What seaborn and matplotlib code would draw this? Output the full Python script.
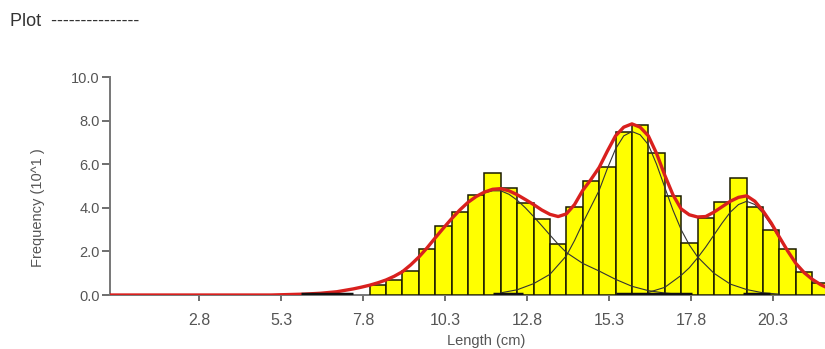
import numpy as np
import pandas as pd
import matplotlib
matplotlib.use('Agg')
import matplotlib.pyplot as plt
import seaborn as sns

# histogram bins (left edge, cm) and frequency (10^1)
bin_left = [8.0, 8.5, 9.0, 9.5, 10.0, 10.5, 11.0, 11.5, 12.0, 12.5, 13.0, 13.5,
            14.0, 14.5, 15.0, 15.5, 16.0, 16.5, 17.0, 17.5, 18.0, 18.5, 19.0,
            19.5, 20.0, 20.5, 21.0, 21.5]
freq = [0.48, 0.69, 1.1, 2.12, 3.15, 3.81, 4.61, 5.62, 4.9, 4.2, 3.48, 2.33,
        4.03, 5.23, 5.88, 7.5, 7.8, 6.52, 4.52, 2.37, 3.55, 4.27, 5.38,
        4.05, 2.97, 2.13, 1.07, 0.56]
bin_width = 0.5

# fitted total curve (red)
total_x = [0.0, 1.0, 2.0, 3.0, 4.0, 5.0, 5.5, 6.0, 6.5, 7.0, 7.5, 7.75,
           8.0, 8.25, 8.5, 8.75, 9.0, 9.25, 9.5, 9.75, 10.0, 10.25, 10.5, 10.75,
           11.0, 11.25, 11.5, 11.75, 12.0, 12.25, 12.5, 12.75, 13.0, 13.25, 13.5, 13.75,
           14.0, 14.25, 14.5, 14.75, 15.0, 15.25, 15.5, 15.75, 16.0, 16.25, 16.5, 16.75,
           17.0, 17.25, 17.5, 17.75, 18.0, 18.25, 18.5, 18.75, 19.0, 19.25, 19.5, 19.75,
           20.0, 20.25, 20.5, 20.75, 21.0, 21.25, 21.5, 21.75, 22.0]
total_y = [0, 0, 0, 0, 0, 0, 0.02, 0.04, 0.08, 0.15, 0.28, 0.36,
           0.45, 0.56, 0.69, 0.86, 1.07, 1.38, 1.74, 2.16, 2.62, 3.07, 3.5, 3.9,
           4.25, 4.52, 4.72, 4.85, 4.88, 4.78, 4.6, 4.38, 4.15, 3.9, 3.7, 3.6,
           3.72, 4.15, 4.8, 5.3, 5.85, 6.6, 7.3, 7.7, 7.85, 7.7, 7.3, 6.5,
           5.5, 4.6, 3.95, 3.68, 3.58, 3.6, 3.8, 4.05, 4.3, 4.48, 4.55, 4.3,
           3.85, 3.3, 2.65, 2.02, 1.45, 1.03, 0.72, 0.48, 0.3]

# component curves (thin black)
comp1_x = [5.5, 6.0, 6.5, 7.0, 7.5, 8.0, 8.5, 9.0, 9.25, 9.5, 9.75, 10.0, 10.25,
           10.5, 10.75, 11.0, 11.25, 11.5, 11.75, 12.0, 12.25, 12.5, 12.75, 13.0,
           13.25, 13.5, 13.75, 14.0, 14.5, 15.0, 15.5, 16.0, 16.5, 17.0, 17.5]
comp1_y = [0.02, 0.04, 0.08, 0.15, 0.28, 0.45, 0.69, 1.07, 1.38, 1.74, 2.16, 2.62, 3.07,
           3.5, 3.9, 4.25, 4.5, 4.68, 4.78, 4.78, 4.62, 4.35, 4.0, 3.6,
           3.18, 2.75, 2.33, 1.95, 1.45, 1.1, 0.72, 0.4, 0.2, 0.09, 0.03]
comp2_x = [12.0, 12.5, 13.0, 13.5, 14.0, 14.25, 14.5, 14.75, 15.0, 15.25, 15.5,
           15.75, 16.0, 16.25, 16.5, 16.75, 17.0, 17.25, 17.5, 17.75, 18.0, 18.5,
           19.0, 19.5, 20.0, 20.5]
comp2_y = [0.1, 0.24, 0.52, 0.95, 1.8, 2.5, 3.3, 4.05, 4.8, 5.8, 6.7,
           7.3, 7.5, 7.35, 6.9, 6.0, 4.95, 3.9, 3.0, 2.3, 1.75, 1.0,
           0.5, 0.25, 0.1, 0.04]
comp3_x = [16.5, 17.0, 17.5, 17.75, 18.0, 18.25, 18.5, 18.75, 19.0, 19.25, 19.5,
           19.75, 20.0, 20.25, 20.5, 20.75, 21.0, 21.5, 22.0]
comp3_y = [0.12, 0.35, 0.9, 1.25, 1.7, 2.2, 2.75, 3.3, 3.8, 4.15, 4.3,
           4.15, 3.75, 3.2, 2.6, 2.0, 1.45, 0.72, 0.3]

# dark marks on the baseline
seg_start = [5.9, 11.77, 15.5, 19.4]
seg_end = [7.5, 12.69, 17.82, 20.2]

xticks = [2.8, 5.3, 7.8, 10.3, 12.8, 15.3, 17.8, 20.3]
yticks = [0.0, 2.0, 4.0, 6.0, 8.0, 10.0]

sns.set_style('white')
plt.rcParams['font.family'] = ['Liberation Sans', 'DejaVu Sans']

fig = plt.figure(figsize=(8.25, 3.49), dpi=100)
ax = fig.add_axes([0.1333, 0.1547, 0.891, 0.6246])

edges = bin_left + [bin_left[-1] + bin_width]
centers = [b + bin_width / 2 for b in bin_left]
sns.histplot(x=centers, weights=freq, bins=edges, color='#ffff00', edgecolor='#1a1a00',
             linewidth=1.1, alpha=1, ax=ax, zorder=2)

for cx, cy in [(comp1_x, comp1_y), (comp2_x, comp2_y), (comp3_x, comp3_y)]:
    sns.lineplot(x=cx, y=cy, color='#333333', linewidth=0.8, ax=ax, zorder=3)

sns.lineplot(x=total_x, y=total_y, color='#d9201e', linewidth=2.4, ax=ax, zorder=4)

for s, e in zip(seg_start, seg_end):
    ax.plot([s, e], [0.04, 0.04], color='#111111', linewidth=2.5, zorder=5,
            solid_capstyle='butt')

ax.set_xlim(0.08, 22.5)
ax.set_ylim(0, 10)
ax.set_xticks(xticks)
ax.set_xticklabels([f'{v:.1f}' for v in xticks])
ax.set_yticks(yticks)
ax.set_yticklabels([f'{v:.1f}' for v in yticks])

for side in ['top', 'right']:
    ax.spines[side].set_visible(False)
for side in ['left', 'bottom']:
    ax.spines[side].set_color('#777777')
    ax.spines[side].set_linewidth(1.4)
ax.spines['bottom'].set_zorder(1)

ax.tick_params(axis='both', colors='#555555', width=1.2, direction='out')
ax.tick_params(axis='x', labelsize=11.5, length=4, pad=9, bottom=True)
ax.tick_params(axis='y', labelsize=10.5, length=6, pad=1.5, left=True)
for lab in ax.get_xticklabels() + ax.get_yticklabels():
    lab.set_color('#555555')

ax.set_xlabel('')
ax.set_ylabel('')
fig.text(38 / 825, 1 - 208 / 349, 'Frequency (10^1 )', fontsize=10.5, color='#555555',
         ha='center', va='center', rotation=90)
fig.text(486 / 825, 1 - 341 / 349, 'Length (cm)', fontsize=10.5, color='#555555',
         ha='center', va='center')
fig.text(10 / 825, 1 - 21 / 349, 'Plot  ---------------', fontsize=13,
         color='#333333', ha='left', va='center')

fig.savefig('out.png', dpi=100)
